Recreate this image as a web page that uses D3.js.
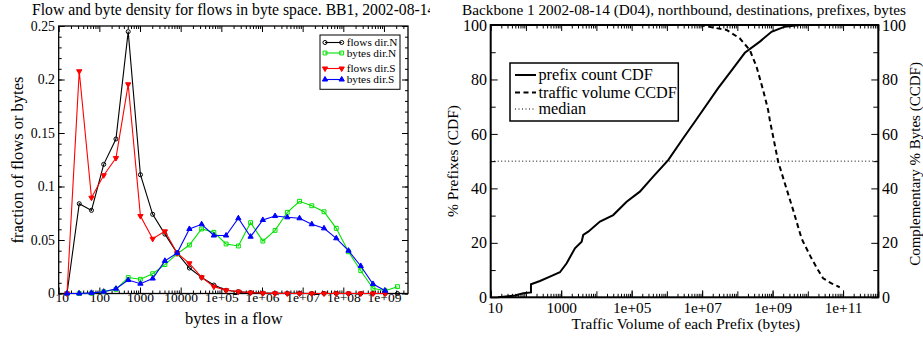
<!DOCTYPE html>
<html><head><meta charset="utf-8">
<script src="https://cdn.jsdelivr.net/npm/d3@7"></script>
<style>
body{margin:0;background:#fff}
svg{display:block}
text{font-family:"Liberation Serif","Times New Roman",serif;fill:#000}
</style>
</head><body>
<svg id="c" width="923" height="337"></svg>
<script>
// ---------------- DATA: left chart (byte bins 2^4 .. 2^31) ----------------
const binBytes = [16,32,64,128,256,512,1024,2048,4096,8192,16384,32768,65536,131072,262144,524288,
  1048576,2097152,4194304,8388608,16777216,33554432,67108864,134217728,268435456,536870912,1073741824,2147483648];
const flowsN = [0,0.0839,0.0777,0.1207,0.1444,0.2447,0.1110,0.0740,0.0555,0.0378,0.0238,0.0151,0.0079,0.0030,
  0.0017,0.0008,0.0004,0.0002,0.0001,0.0001,0,0,0,0,0,0,0,0];
const bytesN = [0,0,0.0003,0.0017,0.0039,0.0149,0.0133,0.0185,0.0270,0.0370,0.0453,0.0603,0.0572,0.0463,
  0.0444,0.0662,0.0490,0.0590,0.0759,0.0862,0.0820,0.0764,0.0609,0.0390,0.0213,0.0049,0.0026,0.0064];
const flowsS = [0,0.2077,0.0895,0.1105,0.1266,0.1955,0.0724,0.0511,0.0581,0.0377,0.0282,0.0151,0.0064,0.0030,
  0.0017,0.0008,0.0003,0.0001,0,0,0,0,0,0,0,0,0];
const bytesS = [0,0,0.0006,0.0017,0.0045,0.0126,0.0092,0.0140,0.0305,0.0378,0.0603,0.0647,0.0542,0.0542,
  0.0703,0.0531,0.0687,0.0724,0.0712,0.0703,0.0647,0.0609,0.0516,0.0400,0.0257,0.0089,0.0026];
const leftSeriesNames = ["flows dir.N","bytes dir.N","flows dir.S","bytes dir.S"];
const leftYTicks = [0,0.05,0.1,0.15,0.2,0.25];
const leftXTicks = [10,100,1000,10000,1e5,1e6,1e7,1e8,1e9];
const leftXLabels = ["10","100","1000","10000","1e+05","1e+06","1e+07","1e+08","1e+09"];

// ---------------- DATA: right chart ----------------
const prefixX = [16,23,49,84,139,139,250,480,920,1430,2460,3810,4230,5860,12600,30000,72000,171000,408000,
  1090000,2900000,6950000,28500000,75900000,163000000,435000000,931000000,2220000000,5920000000];
const prefixCDF = [0,0.2,0.7,1.5,1.8,4.8,6.0,7.6,9.2,12.5,18.0,20.4,22.9,24.1,27.8,30.2,35.1,38.8,44.3,
  50.4,58.4,65.4,76.8,84.1,89.8,93.9,97.5,99.4,100];
const trafficX = [8.6e6,1.48e7,4.93e7,1.17e8,2.26e8,3.5e8,5.38e8,7.46e8,8.34e8,1.44e9,2.22e9,3.82e9,6.61e9,
  7.35e9,1.27e10,1.95e10,2.71e10,4.69e10,8.05e10];
const trafficCCDF = [100,99.4,98.2,95.1,90.8,84.7,76.1,68.8,65.1,49.8,41.9,32.1,21.7,20.4,14.3,10.0,7.0,5.1,3.7];
const medianLevel = 50;
const rightLegend = ["prefix count CDF","traffic volume CCDF","median"];
const rightYTicks = [0,20,40,60,80,100];
const rightXTicks = [10,1e3,1e5,1e7,1e9,1e11];
const rightXLabels = ["10","1000","1e+05","1e+07","1e+09","1e+11"];

// ---------------- helpers ----------------
const FONT = "'Liberation Serif','Times New Roman',serif";
const svg = d3.select("#c");
function logMinors(lo, hi){
  const out=[]; for(let e=lo;e<hi;e++) for(let m=2;m<=9;m++) out.push(m*Math.pow(10,e)); return out;
}
function styleAxis(g, size){
  g.attr("font-family", FONT).attr("font-size", size);
  g.select(".domain").remove();
  g.selectAll("line").attr("stroke","#000");
  g.selectAll("text").style("font-family", FONT).style("font-size", size+"px");
}
function txt(sel, size){ return sel.append("text").style("font-family",FONT).style("font-size",size+"px"); }

// ================= LEFT CHART =================
const defs = svg.append("defs");
defs.append("clipPath").attr("id","clipL").append("rect").attr("x",0).attr("y",0).attr("width",430).attr("height",337);
const gl = svg.append("g");
const L = {x0:58.7, x1:408, y0:26, y1:293.5};
const xL = d3.scaleLog().domain([10, 3.9e9]).range([L.x0, L.x1]);
const yL = d3.scaleLinear().domain([0, 0.25]).range([L.y1, L.y0]);

txt(gl,15.7).attr("clip-path","url(#clipL)").attr("x",32).attr("y",15)
  .text("Flow and byte density for flows in byte space. BB1, 2002-08-14");

// minor ticks
const lMinX = logMinors(1,10).filter(v=>v<3.9e9);
const lMinY = d3.range(0,0.2501,0.01);
gl.append("g").attr("transform",`translate(0,${L.y1})`).call(d3.axisBottom(xL).tickValues(lMinX).tickSize(-3).tickFormat("")).call(g=>styleAxis(g,13));
gl.append("g").attr("transform",`translate(0,${L.y0})`).call(d3.axisTop(xL).tickValues(lMinX).tickSize(-3).tickFormat("")).call(g=>styleAxis(g,13));
gl.append("g").attr("transform",`translate(${L.x0},0)`).call(d3.axisLeft(yL).tickValues(lMinY).tickSize(-3).tickFormat("")).call(g=>styleAxis(g,13));
gl.append("g").attr("transform",`translate(${L.x1},0)`).call(d3.axisRight(yL).tickValues(lMinY).tickSize(-3).tickFormat("")).call(g=>styleAxis(g,13));
// major ticks
const axLB = gl.append("g").attr("transform",`translate(0,${L.y1})`)
  .call(d3.axisBottom(xL).tickValues(leftXTicks).tickSize(-6).tickFormat((d,i)=>leftXLabels[i]))
  .call(g=>styleAxis(g,13.5));
axLB.selectAll("text").attr("y",8).attr("dy",0).attr("dx",(d,i)=>i===0?3:0);
gl.append("g").attr("transform",`translate(0,${L.y0})`).call(d3.axisTop(xL).tickValues(leftXTicks).tickSize(-6).tickFormat("")).call(g=>styleAxis(g,13));
gl.append("g").attr("transform",`translate(${L.x0},0)`)
  .call(d3.axisLeft(yL).tickValues(leftYTicks).tickSize(-6).tickPadding(3.7).tickFormat(d3.format("~g")))
  .call(g=>styleAxis(g,13.8));
gl.append("g").attr("transform",`translate(${L.x1},0)`).call(d3.axisRight(yL).tickValues(leftYTicks).tickSize(-6).tickFormat("")).call(g=>styleAxis(g,13));
gl.append("rect").attr("x",L.x0).attr("y",L.y0).attr("width",L.x1-L.x0).attr("height",L.y1-L.y0)
  .attr("fill","none").attr("stroke","#000").attr("stroke-width",1.3);

txt(gl,16.5).attr("x",233.8).attr("y",324).attr("text-anchor","middle").text("bytes in a flow");
txt(gl,16.5).attr("transform",`translate(23,160) rotate(-90)`).attr("text-anchor","middle")
  .text("fraction of flows or bytes");

const leftSeries = [
  {name:leftSeriesNames[0], vals:flowsN, color:"#000000", sym:d3.symbolCircle, size:13, fill:"none", rot:0},
  {name:leftSeriesNames[1], vals:bytesN, color:"#00e000", sym:d3.symbolSquare, size:15, fill:"none", rot:0},
  {name:leftSeriesNames[2], vals:flowsS, color:"#ff0000", sym:d3.symbolTriangle, size:12, fill:"#ff0000", rot:180},
  {name:leftSeriesNames[3], vals:bytesS, color:"#0000ff", sym:d3.symbolTriangle, size:12, fill:"#0000ff", rot:0}
];
const lineL = d3.line().x(d=>xL(d[0])).y(d=>yL(d[1]));
const plotL = gl.append("g");
leftSeries.forEach(s=>{
  const pts = s.vals.map((v,i)=>[binBytes[i], v]);
  plotL.append("path").attr("d", lineL(pts)).attr("fill","none").attr("stroke",s.color).attr("stroke-width",1.1);
  plotL.selectAll(null).data(pts).enter().append("path")
    .attr("d", d3.symbol().type(s.sym).size(s.size))
    .attr("transform", d=>`translate(${xL(d[0])},${yL(d[1])}) rotate(${s.rot})`)
    .attr("fill", s.fill).attr("stroke", s.color).attr("stroke-width",1);
});
// left legend
const lg = gl.append("g");
lg.append("rect").attr("x",320).attr("y",35).attr("width",80).attr("height",54.3).attr("fill","#fff").attr("stroke","#000").attr("stroke-width",1);
const legY = [42.5, 53, 68.5, 79.5];
leftSeries.forEach((s,i)=>{
  const y = legY[i];
  lg.append("line").attr("x1",325).attr("x2",341.7).attr("y1",y).attr("y2",y).attr("stroke",s.color).attr("stroke-width",1.1);
  [325,341.7].forEach(x=>lg.append("path").attr("d",d3.symbol().type(s.sym).size(s.size))
    .attr("transform",`translate(${x},${y}) rotate(${s.rot})`).attr("fill",s.fill).attr("stroke",s.color));
  txt(lg,11.3).attr("x",346.7).attr("y",y+3.7).text(s.name);
});

// ================= RIGHT CHART =================
const gr = svg.append("g");
const R = {x0:490.7, x1:878.3, y0:25, y1:297.3};
const xR = d3.scaleLog().domain([10, 1e12]).range([R.x0, R.x1]);
const yR = d3.scaleLinear().domain([0, 100]).range([R.y1, R.y0]);

txt(gr,15.3).attr("x",462).attr("y",15)
  .text("Backbone 1 2002-08-14 (D04), northbound, destinations, prefixes, bytes");

const rMinX = logMinors(1,12);
const rDecades = d3.range(1,13).map(e=>Math.pow(10,e));
const rMinY = [10,30,50,70,90];
[[R.y1,d3.axisBottom],[R.y0,d3.axisTop]].forEach(([y,ax])=>{
  gr.append("g").attr("transform",`translate(0,${y})`).call(ax(xR).tickValues(rMinX).tickSize(-3.5).tickFormat("")).call(g=>styleAxis(g,15));
  gr.append("g").attr("transform",`translate(0,${y})`).call(ax(xR).tickValues(rDecades).tickSize(-6).tickFormat("")).call(g=>styleAxis(g,15));
});
[[R.x0,d3.axisLeft],[R.x1,d3.axisRight]].forEach(([x,ax])=>{
  gr.append("g").attr("transform",`translate(${x},0)`).call(ax(yR).tickValues(rMinY).tickSize(-5).tickFormat("")).call(g=>styleAxis(g,15));
});
const axRB = gr.append("g").attr("transform",`translate(0,${R.y1})`)
  .call(d3.axisBottom(xR).tickValues(rightXTicks).tickSize(-7).tickFormat((d,i)=>rightXLabels[i]))
  .call(g=>styleAxis(g,15.3));
axRB.selectAll("text").attr("y",15.5).attr("dy",0).attr("dx",(d,i)=>i===0?4:0);
gr.append("g").attr("transform",`translate(${R.x0},0)`)
  .call(d3.axisLeft(yR).tickValues(rightYTicks).tickSize(-7).tickPadding(3.7).tickFormat(d3.format("d")))
  .call(g=>styleAxis(g,16));
gr.append("g").attr("transform",`translate(${R.x1},0)`)
  .call(d3.axisRight(yR).tickValues(rightYTicks).tickSize(-7).tickPadding(3.7).tickFormat(d3.format("d")))
  .call(g=>styleAxis(g,16));
gr.append("rect").attr("x",R.x0).attr("y",R.y0).attr("width",R.x1-R.x0).attr("height",R.y1-R.y0)
  .attr("fill","none").attr("stroke","#000").attr("stroke-width",2);

txt(gr,15.3).attr("x",685.8).attr("y",328.5).attr("text-anchor","middle")
  .text("Traffic Volume of each Prefix (bytes)");
txt(gr,15.5).attr("transform",`translate(458,161) rotate(-90)`).attr("text-anchor","middle")
  .text("% Prefixes (CDF)");
txt(gr,15).attr("transform",`translate(920,164) rotate(-90)`).attr("text-anchor","middle")
  .text("Complementary % Bytes (CCDF)");

const lineR = d3.line().x(d=>xR(d[0])).y(d=>yR(d[1]));
gr.append("path").attr("d", lineR(xR.domain().map(x=>[x, medianLevel])))
  .attr("fill","none").attr("stroke","#000").attr("stroke-width",1).attr("stroke-dasharray","1,2.5");
gr.append("path").attr("d", lineR(prefixX.map((x,i)=>[x,prefixCDF[i]])))
  .attr("fill","none").attr("stroke","#000").attr("stroke-width",2);
gr.append("path").attr("d", lineR(trafficX.map((x,i)=>[x,trafficCCDF[i]])))
  .attr("fill","none").attr("stroke","#000").attr("stroke-width",2).attr("stroke-dasharray","5,3.5");

// right legend
const rl = gr.append("g");
rl.append("rect").attr("x",510).attr("y",63).attr("width",168.3).attr("height",58).attr("fill","#fff").attr("stroke","#000").attr("stroke-width",1.5);
const rDash = [null,"5,3.5","1,2.5"], rW=[2,2,1], rBase=[80,97.5,114];
rightLegend.forEach((t,i)=>{
  rl.append("line").attr("x1",515).attr("x2",536).attr("y1",rBase[i]-5).attr("y2",rBase[i]-5)
    .attr("stroke","#000").attr("stroke-width",rW[i]).attr("stroke-dasharray",rDash[i]);
  txt(rl,16.2).attr("x",538.5).attr("y",rBase[i]).text(t);
});
</script>
</body></html>
